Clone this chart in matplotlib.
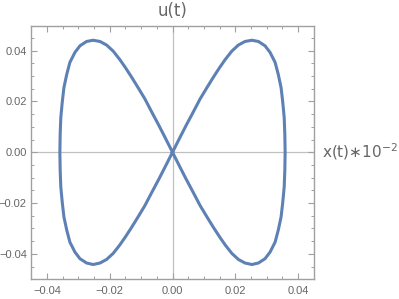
import matplotlib
matplotlib.use("Agg")
import matplotlib.pyplot as plt
from matplotlib.ticker import MultipleLocator, FixedLocator

# Curve points (figure-eight, traversed continuously)
ur_x = [0.0, 0.0022, 0.0044, 0.0066, 0.0088, 0.0110, 0.0130, 0.0150, 0.0168, 0.0189, 0.0210, 0.0231,
        0.0253, 0.0274, 0.0295, 0.0311, 0.0327, 0.0337, 0.0346, 0.0351, 0.0356, 0.0358, 0.0359]
ur_y = [0.0, 0.0054, 0.0107, 0.0158, 0.0210, 0.0255, 0.0295, 0.0333, 0.0365, 0.0398, 0.0422, 0.0436,
        0.0441, 0.0436, 0.0419, 0.0393, 0.0354, 0.0307, 0.0255, 0.0202, 0.0137, 0.0071, 0.0]
lr_x = [0.0359, 0.0358, 0.0356, 0.0351, 0.0346, 0.0337, 0.0327, 0.0311, 0.0295, 0.0274, 0.0253, 0.0231,
        0.0210, 0.0189, 0.0168, 0.0150, 0.0130, 0.0110, 0.0088, 0.0066, 0.0044, 0.0022, 0.0]
lr_y = [0.0, -0.0071, -0.0137, -0.0202, -0.0255, -0.0307, -0.0354, -0.0393, -0.0419, -0.0436, -0.0442, -0.0436,
        -0.0422, -0.0398, -0.0365, -0.0333, -0.0295, -0.0255, -0.0210, -0.0158, -0.0107, -0.0054, 0.0]
ul_x = [0.0, -0.0022, -0.0044, -0.0066, -0.0088, -0.0110, -0.0130, -0.0150, -0.0168, -0.0189, -0.0210, -0.0231,
        -0.0253, -0.0274, -0.0295, -0.0311, -0.0327, -0.0337, -0.0346, -0.0351, -0.0356, -0.0358, -0.0359]
ul_y = [0.0, 0.0054, 0.0107, 0.0158, 0.0210, 0.0255, 0.0295, 0.0333, 0.0365, 0.0398, 0.0422, 0.0436,
        0.0441, 0.0436, 0.0419, 0.0393, 0.0354, 0.0307, 0.0255, 0.0202, 0.0137, 0.0071, 0.0]
ll_x = [-0.0359, -0.0358, -0.0356, -0.0351, -0.0346, -0.0337, -0.0327, -0.0311, -0.0295, -0.0274, -0.0253, -0.0231,
        -0.0210, -0.0189, -0.0168, -0.0150, -0.0130, -0.0110, -0.0088, -0.0066, -0.0044, -0.0022, 0.0]
ll_y = [0.0, -0.0071, -0.0137, -0.0202, -0.0255, -0.0307, -0.0354, -0.0393, -0.0419, -0.0436, -0.0442, -0.0436,
        -0.0422, -0.0398, -0.0365, -0.0333, -0.0295, -0.0255, -0.0210, -0.0158, -0.0107, -0.0054, 0.0]

x_ticks = [-0.04, -0.02, 0.00, 0.02, 0.04]
y_ticks = [-0.04, -0.02, 0.00, 0.02, 0.04]
x_ticklabels = ["\u22120.04", "\u22120.02", "0.00", "0.02", "0.04"]
y_ticklabels = ["\u22120.04", "\u22120.02", "0.00", "0.02", "0.04"]

xs = ur_x + lr_x + ul_x + ll_x
ys = ur_y + lr_y + ul_y + ll_y

fig = plt.figure(figsize=(3.99, 2.99), dpi=100)
ax = fig.add_axes([31/399, 20/299, 283/399, 253/299])

frame_col = "#a0a0a0"
text_col = "#666666"

ax.axhline(0, color="#c0c0c0", lw=0.9, zorder=1)
ax.axvline(0, color="#c0c0c0", lw=0.9, zorder=1)
ax.plot(xs, ys, color="#5E81B5", lw=2.2, solid_joinstyle="round", zorder=3)

ax.set_xlim(-0.0451, 0.0451)
ax.set_ylim(-0.0499, 0.0497)

ax.xaxis.set_major_locator(FixedLocator(x_ticks))
ax.yaxis.set_major_locator(FixedLocator(y_ticks))
ax.set_xticklabels(x_ticklabels, fontfamily="Liberation Sans")
ax.set_yticklabels(y_ticklabels, fontfamily="Liberation Sans")
ax.xaxis.set_minor_locator(MultipleLocator(0.005))
ax.yaxis.set_minor_locator(MultipleLocator(0.005))

for s in ax.spines.values():
    s.set_color(frame_col)
    s.set_linewidth(1.0)

ax.tick_params(which="both", direction="in", top=True, right=True,
               color=frame_col, labelcolor=text_col, labelsize=8)
ax.tick_params(which="major", length=4.5, width=0.8)
ax.tick_params(which="minor", length=2.5, width=0.7)
ax.tick_params(axis="x", which="major", pad=5)
ax.tick_params(axis="y", which="major", pad=3)

ax.annotate("u(t)", xy=(0.0, 1.0), xycoords=ax.get_xaxis_transform(),
            xytext=(0, 4.5), textcoords="offset points",
            ha="center", va="bottom", fontsize=12, color=text_col)
ax.text(322/399, 1 - 152/299, "x(t)\u221710$^{-2}$", transform=fig.transFigure,
        ha="left", va="center", fontsize=11, color=text_col)

fig.savefig("out.png", dpi=100)
